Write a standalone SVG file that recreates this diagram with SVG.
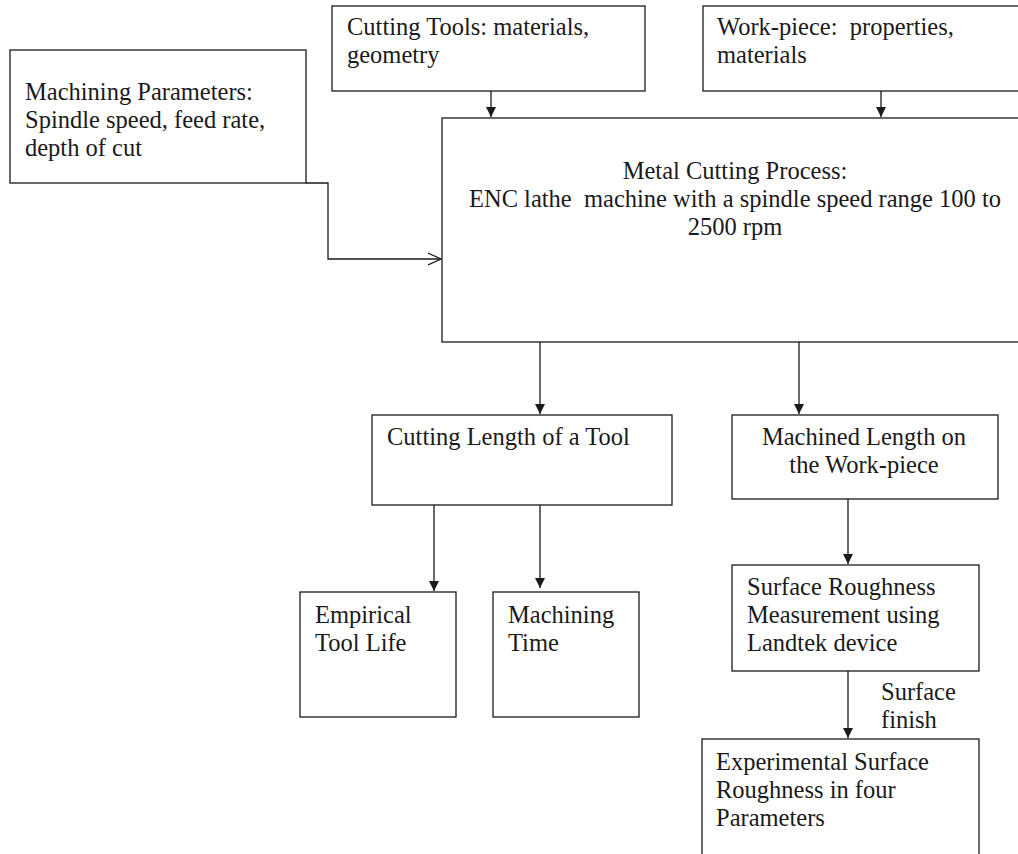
<svg xmlns="http://www.w3.org/2000/svg" width="1018" height="854" viewBox="0 0 1018 854">
<defs>
<style>
.box{fill:#fff;stroke:#1a1a1a;stroke-width:1.3}
.t{font-family:"Liberation Serif","Times New Roman",serif;font-size:24.5px;fill:#1a1a1a}
.c{text-anchor:middle}
.ln{fill:none;stroke:#1a1a1a;stroke-width:1.3}
</style>
<marker id="ah" markerWidth="10" markerHeight="10" refX="10" refY="5" orient="auto" markerUnits="userSpaceOnUse" viewBox="0 0 10 10">
<path d="M0,0 L10,5 L0,10 Z" fill="#1a1a1a"/>
</marker>
<marker id="oa" markerWidth="14" markerHeight="14" refX="13" refY="7" orient="auto" markerUnits="userSpaceOnUse" viewBox="0 0 14 14">
<path d="M0,1 L13,7 L0,13" fill="none" stroke="#1a1a1a" stroke-width="1.2"/>
</marker>
</defs>
<rect width="1018" height="854" fill="#fff"/>
<g id="connectors">
<polyline class="ln" points="306,183 328,183 328,259 441,259" marker-end="url(#oa)"/>
<path class="ln" d="M491,78 V117" marker-end="url(#ah)"/>
<path class="ln" d="M881,78 V117" marker-end="url(#ah)"/>
<path class="ln" d="M540,342 V414" marker-end="url(#ah)"/>
<path class="ln" d="M799,342 V414" marker-end="url(#ah)"/>
<path class="ln" d="M434,500 V591" marker-end="url(#ah)"/>
<path class="ln" d="M540,505 V588" marker-end="url(#ah)"/>
<path class="ln" d="M848,499 V564" marker-end="url(#ah)"/>
<path class="ln" d="M848,671 V738" marker-end="url(#ah)"/>
<text class="t" x="881" y="700">Surface</text>
<text class="t" x="881" y="728">finish</text>
</g>
<g id="machining-parameters">
<rect class="box" x="10" y="50" width="296" height="133"/>
<text class="t" x="25" y="100">Machining Parameters:</text>
<text class="t" x="25" y="128">Spindle speed, feed rate,</text>
<text class="t" x="25" y="156">depth of cut</text>
</g>
<g id="cutting-tools">
<rect class="box" x="332" y="6" width="313" height="85"/>
<text class="t" x="347" y="35">Cutting Tools: materials,</text>
<text class="t" x="347" y="63">geometry</text>
</g>
<g id="work-piece">
<rect class="box" x="703" y="6" width="330" height="85"/>
<text class="t" x="717" y="35" xml:space="preserve">Work-piece:  properties,</text>
<text class="t" x="717" y="63">materials</text>
</g>
<g id="metal-cutting">
<rect class="box" x="442" y="118" width="590" height="224"/>
<text class="t c" x="735" y="179">Metal Cutting Process:</text>
<text class="t c" x="735" y="207" xml:space="preserve">ENC lathe  machine with a spindle speed range 100 to</text>
<text class="t c" x="735" y="235">2500 rpm</text>
</g>
<g id="cutting-length">
<rect class="box" x="372" y="415" width="300" height="90"/>
<text class="t" x="387" y="445">Cutting Length of a Tool</text>
</g>
<g id="machined-length">
<rect class="box" x="732" y="415" width="266" height="84"/>
<text class="t c" x="864" y="445">Machined Length on</text>
<text class="t c" x="864" y="473">the Work-piece</text>
</g>
<g id="empirical-tool-life">
<rect class="box" x="300" y="592" width="156" height="125"/>
<text class="t" x="315" y="623">Empirical</text>
<text class="t" x="315" y="651">Tool Life</text>
</g>
<g id="machining-time">
<rect class="box" x="493" y="592" width="146" height="125"/>
<text class="t" x="508" y="623">Machining</text>
<text class="t" x="508" y="651">Time</text>
</g>
<g id="surface-roughness">
<rect class="box" x="732" y="565" width="247" height="106"/>
<text class="t" x="747" y="595">Surface Roughness</text>
<text class="t" x="747" y="623">Measurement using</text>
<text class="t" x="747" y="651">Landtek device</text>
</g>
<g id="experimental">
<rect class="box" x="702" y="739" width="277" height="130"/>
<text class="t" x="716" y="770">Experimental Surface</text>
<text class="t" x="716" y="798">Roughness in four</text>
<text class="t" x="716" y="826">Parameters</text>
</g>
</svg>
